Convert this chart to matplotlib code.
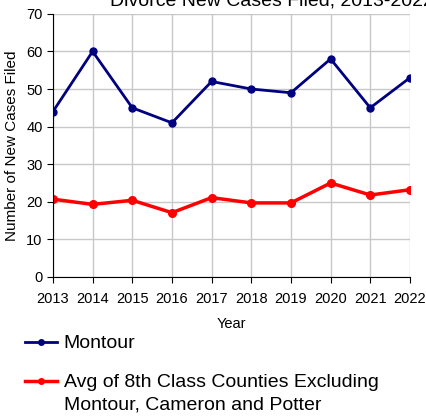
import matplotlib.pyplot as plt
from matplotlib.lines import Line2D

plt.rcParams['font.family'] = ['Liberation Sans', 'DejaVu Sans']

years = [2013, 2014, 2015, 2016, 2017, 2018, 2019, 2020, 2021, 2022]
montour = [44, 60, 45, 41, 52, 50, 49, 58, 45, 53]
avg_8th = [20.7, 19.3, 20.4, 17.1, 21.1, 19.7, 19.7, 25.0, 21.8, 23.2]

fig = plt.figure(figsize=(4.27, 4.19), dpi=100)
ax = fig.add_axes([0.124, 0.339, 0.836, 0.628])

ax.plot(years, montour, color='#000080', linewidth=2, marker='o', markersize=5)
ax.plot(years, avg_8th, color='#FF0000', linewidth=2.5, marker='o', markersize=5.5)

ax.set_xlim(2013, 2022)
ax.set_ylim(0, 70)
ax.set_xticks(years)
ax.set_yticks(range(0, 71, 10))
ax.grid(True, color='#c8c8c8', linewidth=1)
ax.set_axisbelow(True)
for s in ['top', 'right']:
    ax.spines[s].set_visible(False)
ax.tick_params(labelsize=10.5, direction='out', length=4, color='black')
ax.tick_params(axis='x', pad=7)
ax.set_xlabel("Year", fontsize=10.5, labelpad=8)
ax.set_ylabel("Number of New Cases Filed", fontsize=11, labelpad=5)

fig.text(110 / 427, 1 - 6 / 419, "Divorce New Cases Filed, 2013-2022",
         fontsize=14, ha='left', va='baseline')

# legend below the chart
h1 = Line2D([], [], color='#000080', linewidth=2, marker='o', markersize=4)
h2 = Line2D([], [], color='#FF0000', linewidth=2.5, marker='o', markersize=4)
leg = fig.legend([h1, h2], ["Montour", "Avg of 8th Class Counties Excluding"],
                 loc='upper left', bbox_to_anchor=(0.04, 1 - 327 / 419),
                 frameon=False, fontsize=14, handlelength=1.65,
                 handletextpad=0.35, labelspacing=1.1, borderaxespad=0)
fig.text(64 / 427, 1 - 405 / 419, "Montour, Cameron and Potter",
         fontsize=14, ha='left', va='center')

plt.savefig("out.png")
